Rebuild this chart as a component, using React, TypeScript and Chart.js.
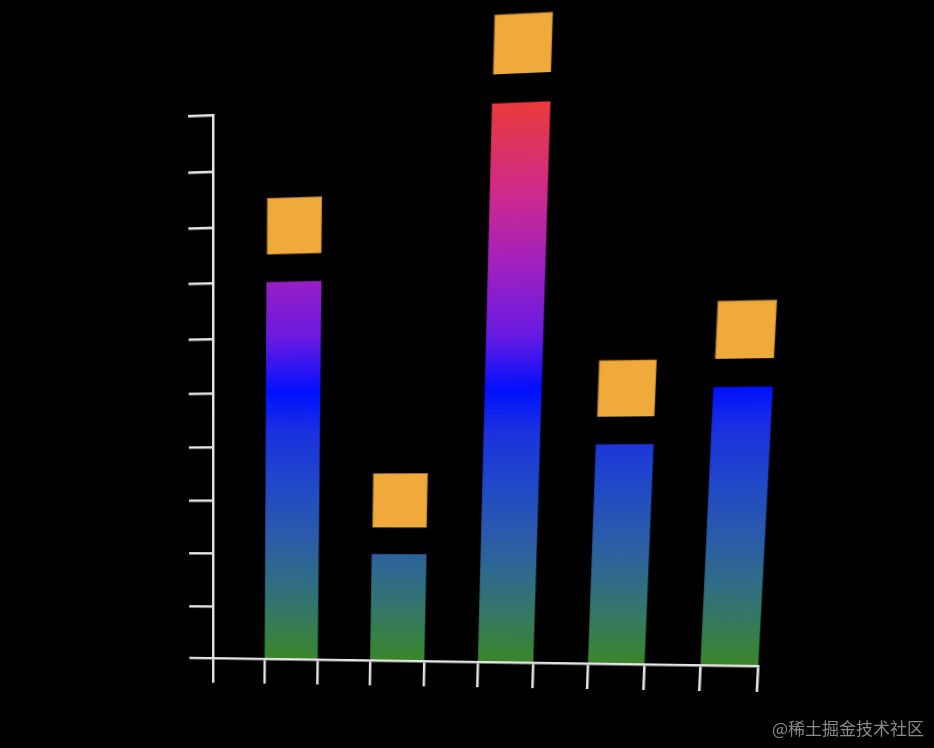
import { useEffect, useRef } from "react"
import { Chart, registerables } from "chart.js"

Chart.register(...registerables)

// data
const categories = ["A", "B", "C", "D", "E"]
const values = [70, 20, 100, 40, 50]
const gapHeights = [5, 5, 5, 5, 5]
const capHeights = [10, 10, 10, 10, 10]
const yTicks = [0, 10, 20, 30, 40, 50, 60, 70, 80, 90, 100]

const AXIS = "#e4e4e4"
const ORANGE = "#f0aa3c"

// where the flat chart area corners end up on the page (tilted look)
const TARGET = {
  tl: [213, 115],
  bl: [213, 658],
  br: [758, 666],
  tr: [788, 92],
}

function solve(A: number[][], b: number[]) {
  const n = b.length
  const M = A.map((row, i) => [...row, b[i]])
  for (let c = 0; c < n; c++) {
    let p = c
    for (let r = c + 1; r < n; r++) if (Math.abs(M[r][c]) > Math.abs(M[p][c])) p = r
    ;[M[c], M[p]] = [M[p], M[c]]
    for (let r = 0; r < n; r++) {
      if (r === c) continue
      const f = M[r][c] / M[c][c]
      for (let k = c; k <= n; k++) M[r][k] -= f * M[c][k]
    }
  }
  return M.map((row, i) => row[n] / row[i])
}

function homography(src: number[][], dst: number[][]) {
  const A: number[][] = []
  const b: number[] = []
  for (let i = 0; i < 4; i++) {
    const [x, y] = src[i]
    const [X, Y] = dst[i]
    A.push([x, y, 1, 0, 0, 0, -x * X, -y * X])
    b.push(X)
    A.push([0, 0, 0, x, y, 1, -x * Y, -y * Y])
    b.push(Y)
  }
  const h = solve(A, b)
  return `matrix3d(${h[0]},${h[3]},0,${h[6]},${h[1]},${h[4]},0,${h[7]},0,0,1,0,${h[2]},${h[5]},0,1)`
}

function barGradient(context: any) {
  const chart = context.chart
  const { ctx, chartArea, scales } = chart
  if (!chartArea) return "#2050c8"
  const y0 = scales.y.getPixelForValue(0)
  const y1 = scales.y.getPixelForValue(100)
  const g = ctx.createLinearGradient(0, y0, 0, y1)
  g.addColorStop(0, "#3a8728")
  g.addColorStop(0.09, "#347864")
  g.addColorStop(0.16, "#306a8a")
  g.addColorStop(0.23, "#2a5ca8")
  g.addColorStop(0.33, "#2048c8")
  g.addColorStop(0.43, "#1a30e0")
  g.addColorStop(0.5, "#0010ff")
  g.addColorStop(0.6, "#6a1ae0")
  g.addColorStop(0.72, "#a020c0")
  g.addColorStop(0.85, "#d02a8a")
  g.addColorStop(1, "#e83a3a")
  return g
}

export default function App() {
  const canvasRef = useRef<HTMLCanvasElement>(null)
  const chartRef = useRef<Chart | null>(null)

  useEffect(() => {
    if (!canvasRef.current) return
    if (chartRef.current) chartRef.current.destroy()

    // each category owns two x units, its bar sits in the second one
    const xs = categories.map((_, i) => i * 2 + 1.5)

    const chart = new Chart(canvasRef.current, {
      type: "bar",
      data: {
        datasets: [
          {
            label: "value",
            data: values.map((v, i) => ({ x: xs[i], y: v })),
            backgroundColor: barGradient,
            borderWidth: 0,
            clip: false,
          },
          {
            label: "gap",
            data: gapHeights.map((v, i) => ({ x: xs[i], y: v })),
            backgroundColor: "rgba(0,0,0,0)",
            borderWidth: 0,
            clip: false,
          },
          {
            label: "cap",
            data: capHeights.map((v, i) => ({ x: xs[i], y: v })),
            backgroundColor: ORANGE,
            borderColor: "#b07a28",
            borderWidth: 1,
            clip: false,
          },
        ] as any,
      },
      options: {
        responsive: false,
        animation: false,
        devicePixelRatio: 1,
        categoryPercentage: 1,
        barPercentage: 1,
        layout: { padding: { left: 188, top: 115, right: 176, bottom: 65 } },
        plugins: {
          legend: { display: false },
          tooltip: { enabled: false },
        },
        scales: {
          x: {
            type: "linear",
            stacked: true,
            offset: false,
            min: 0,
            max: 10,
            ticks: { display: false, stepSize: 1 },
            grid: { offset: false, drawOnChartArea: false, drawTicks: true, tickLength: 26, color: AXIS, lineWidth: 2.5 },
            border: { display: true, color: AXIS, width: 2.5 },
          },
          y: {
            stacked: true,
            min: yTicks[0],
            max: yTicks[yTicks.length - 1],
            afterBuildTicks: (axis: any) => {
              axis.ticks = yTicks.map((v) => ({ value: v }))
            },
            ticks: { display: false },
            grid: { drawOnChartArea: false, drawTicks: true, tickLength: 25, color: AXIS, lineWidth: 2.5 },
            border: { display: true, color: AXIS, width: 2.5 },
          },
        },
      } as any,
    })
    chartRef.current = chart

    const a = chart.chartArea
    const src = [
      [a.left, a.top],
      [a.left, a.bottom],
      [a.right, a.bottom],
      [a.right, a.top],
    ]
    const dst = [TARGET.tl, TARGET.bl, TARGET.br, TARGET.tr]
    canvasRef.current.style.transformOrigin = "0 0"
    canvasRef.current.style.transform = homography(src, dst)

    return () => {
      chart.destroy()
      chartRef.current = null
    }
  }, [])

  return (
    <div style={{ position: "fixed", left: 0, top: 0, width: 934, height: 748, background: "#000", overflow: "hidden" }}>
      <canvas
        ref={canvasRef}
        width={934}
        height={748}
        style={{ position: "absolute", left: 0, top: 0, width: 934, height: 748 }}
      />
      <div
        style={{
          position: "absolute",
          right: 10,
          bottom: 8,
          fontFamily: '"Noto Sans CJK SC", sans-serif',
          fontSize: 17,
          color: "#8a8a8a",
        }}
      >
        @稀土掘金技术社区
      </div>
    </div>
  )
}
